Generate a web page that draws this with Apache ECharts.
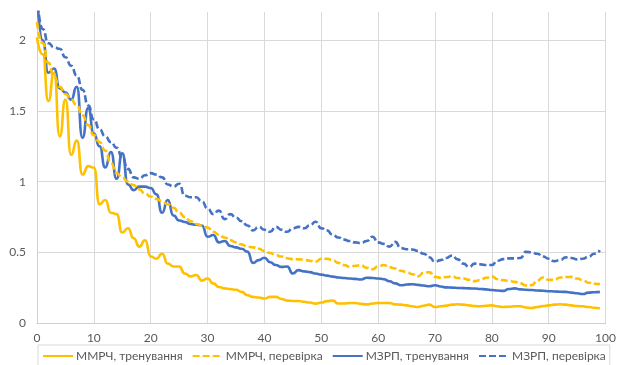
<!DOCTYPE html>
<html>
<head>
<meta charset="utf-8">
<script src="https://cdn.jsdelivr.net/npm/echarts@6/dist/echarts.min.js"></script>
<style>
html,body{margin:0;padding:0;background:#fff;}
#c{width:619px;height:365px;}
</style>
</head>
<body>
<div id="c"></div>
<script>
const seriesNames = ['ММРЧ, тренування', 'ММРЧ, перевірка', 'МЗРП, тренування', 'МЗРП, перевірка'];
const xTicks = [0, 10, 20, 30, 40, 50, 60, 70, 80, 90, 100];
const yTicks = [0, 0.5, 1, 1.5, 2];

const mmrchTrain = [
  2.02, 1.90, 1.57, 1.77, 1.32, 1.58, 1.19, 1.29, 1.05, 1.11,
  1.10, 0.84, 0.87, 0.78, 0.77, 0.64, 0.67, 0.60, 0.54, 0.585,
  0.47, 0.455, 0.49, 0.42, 0.40, 0.40, 0.35, 0.33, 0.34, 0.30,
  0.315, 0.28, 0.255, 0.245, 0.24, 0.235, 0.22, 0.196, 0.185, 0.18,
  0.173, 0.185, 0.185, 0.17, 0.158, 0.156, 0.156, 0.15, 0.145, 0.137,
  0.145, 0.155, 0.158, 0.138, 0.138, 0.142, 0.142, 0.135, 0.132, 0.138,
  0.142, 0.142, 0.142, 0.132, 0.13, 0.125, 0.118, 0.113, 0.122, 0.13,
  0.113, 0.118, 0.123, 0.13, 0.133, 0.13, 0.125, 0.12, 0.118, 0.122,
  0.125, 0.118, 0.113, 0.115, 0.118, 0.118, 0.11, 0.106, 0.113, 0.12,
  0.125, 0.13, 0.133, 0.13, 0.125, 0.12, 0.118, 0.113, 0.108, 0.102
];
const mmrchTest = [
  2.13, 1.98, 1.84, 1.74, 1.67, 1.62, 1.58, 1.54, 1.47, 1.40,
  1.33, 1.28, 1.22, 1.13, 1.06, 1.03, 1.00, 0.975, 0.945, 0.915,
  0.895, 0.878, 0.862, 0.84, 0.815, 0.78, 0.75, 0.72, 0.70, 0.69,
  0.675, 0.645, 0.625, 0.605, 0.585, 0.57, 0.555, 0.54, 0.535, 0.525,
  0.51, 0.495, 0.48, 0.47, 0.458, 0.452, 0.45, 0.448, 0.44, 0.433,
  0.455, 0.455, 0.445, 0.425, 0.41, 0.398, 0.405, 0.408, 0.39, 0.38,
  0.40, 0.41, 0.395, 0.386, 0.37, 0.36, 0.345, 0.33, 0.355, 0.36,
  0.326, 0.32, 0.325, 0.33, 0.318, 0.315, 0.305, 0.296, 0.305, 0.32,
  0.33, 0.31, 0.303, 0.298, 0.291, 0.28, 0.265, 0.268, 0.30, 0.322,
  0.305, 0.305, 0.322, 0.325, 0.326, 0.315, 0.303, 0.285, 0.278, 0.275
];
const mzrpTrain = [
  2.35, 2.00, 1.77, 1.80, 1.66, 1.63, 1.58, 1.67, 1.31, 1.52,
  1.34, 1.25, 1.10, 1.21, 1.02, 1.20, 0.98, 0.94, 0.965, 0.965,
  0.955, 0.91, 0.78, 0.87, 0.76, 0.725, 0.715, 0.70, 0.695, 0.69,
  0.61, 0.622, 0.57, 0.58, 0.545, 0.535, 0.525, 0.505, 0.425, 0.445,
  0.462, 0.43, 0.41, 0.397, 0.40, 0.35, 0.374, 0.365, 0.36, 0.35,
  0.342, 0.335, 0.328, 0.322, 0.318, 0.315, 0.312, 0.308, 0.32, 0.318,
  0.315, 0.31, 0.295, 0.28, 0.267, 0.272, 0.274, 0.27, 0.265, 0.26,
  0.267, 0.258, 0.252, 0.25, 0.248, 0.247, 0.245, 0.244, 0.241, 0.238,
  0.233, 0.23, 0.227, 0.24, 0.245, 0.238, 0.235, 0.233, 0.23, 0.228,
  0.225, 0.223, 0.221, 0.22, 0.215, 0.21, 0.205, 0.215, 0.218, 0.22
];
const mzrpTest = [
  2.32, 2.08, 1.98, 1.95, 1.94, 1.88, 1.82, 1.75, 1.65, 1.54,
  1.44, 1.37, 1.32, 1.28, 1.24, 1.17, 1.09, 1.03, 1.02, 1.045,
  1.06, 1.05, 1.03, 0.98, 0.965, 0.985, 0.90, 0.89, 0.89, 0.86,
  0.81, 0.77, 0.795, 0.735, 0.77, 0.745, 0.72, 0.69, 0.655, 0.68,
  0.66, 0.645, 0.68, 0.66, 0.645, 0.67, 0.68, 0.67, 0.69, 0.716,
  0.67, 0.655, 0.625, 0.605, 0.59, 0.58, 0.57, 0.565, 0.58, 0.61,
  0.57, 0.56, 0.54, 0.574, 0.53, 0.522, 0.52, 0.51, 0.49, 0.465,
  0.433, 0.445, 0.46, 0.478, 0.45, 0.42, 0.397, 0.42, 0.415, 0.41,
  0.41, 0.44, 0.452, 0.457, 0.457, 0.46, 0.503, 0.50, 0.49, 0.47,
  0.455, 0.437, 0.445, 0.464, 0.46, 0.45, 0.455, 0.468, 0.49, 0.515
];

const allData = [mmrchTrain, mmrchTest, mzrpTrain, mzrpTest];
const colors = ['#FFC000', '#FFC000', '#4472C4', '#4472C4'];
const dashes = ['solid', [7, 3], 'solid', [7, 3]];

const FONT = "Lato, 'Noto Sans', sans-serif";
const chart = echarts.init(document.getElementById('c'), null, {renderer: 'canvas'});

const series = allData.map((arr, k) => ({
  name: seriesNames[k],
  type: 'line',
  data: arr.map((v, i) => [i, v]),
  smooth: 0.6,
  smoothMonotone: 'x',
  symbol: 'none',
  clip: true,
  lineStyle: {color: colors[k], width: 2.6, type: dashes[k]},
  itemStyle: {color: colors[k]},
  z: 10 - k
}));

chart.setOption({
  animation: false,
  backgroundColor: '#fff',
  grid: {left: 37, right: 8, top: 12, bottom: 42, containLabel: false},
  xAxis: {
    type: 'value', min: xTicks[0], max: xTicks[xTicks.length - 1], interval: 10,
    axisLine: {show: true, lineStyle: {color: '#d0d0d0', width: 1}},
    axisTick: {show: false},
    axisLabel: {color: '#595959', fontSize: 12, fontFamily: FONT, margin: 9},
    splitLine: {show: true, lineStyle: {color: '#d9d9d9', width: 1}}
  },
  yAxis: {
    type: 'value', min: 0, max: 2.2, interval: 0.5,
    axisLine: {show: true, lineStyle: {color: '#d0d0d0', width: 1}},
    axisTick: {show: false},
    axisLabel: {
      color: '#595959', fontSize: 12, fontFamily: FONT, margin: 11,
      formatter: v => (yTicks.indexOf(Math.round(v * 100) / 100) >= 0 ? String(v) : '')
    },
    splitLine: {show: true, lineStyle: {color: ['#d9d9d9', '#d9d9d9', '#d9d9d9', '#d9d9d9', '#d9d9d9', 'rgba(0,0,0,0)'], width: 1}}
  },
  legend: {
    left: 38, top: 345, width: 581,
    itemWidth: 30, itemHeight: 10, itemGap: 9,
    itemStyle: {opacity: 0},
    padding: [5, 4, 8, 4],
    borderColor: '#d9d9d9', borderWidth: 1,
    textStyle: {color: '#595959', fontSize: 12, fontFamily: FONT, padding: [0, 0, 0, -2]},
    data: seriesNames
  },
  series: series
});
</script>
</body>
</html>
